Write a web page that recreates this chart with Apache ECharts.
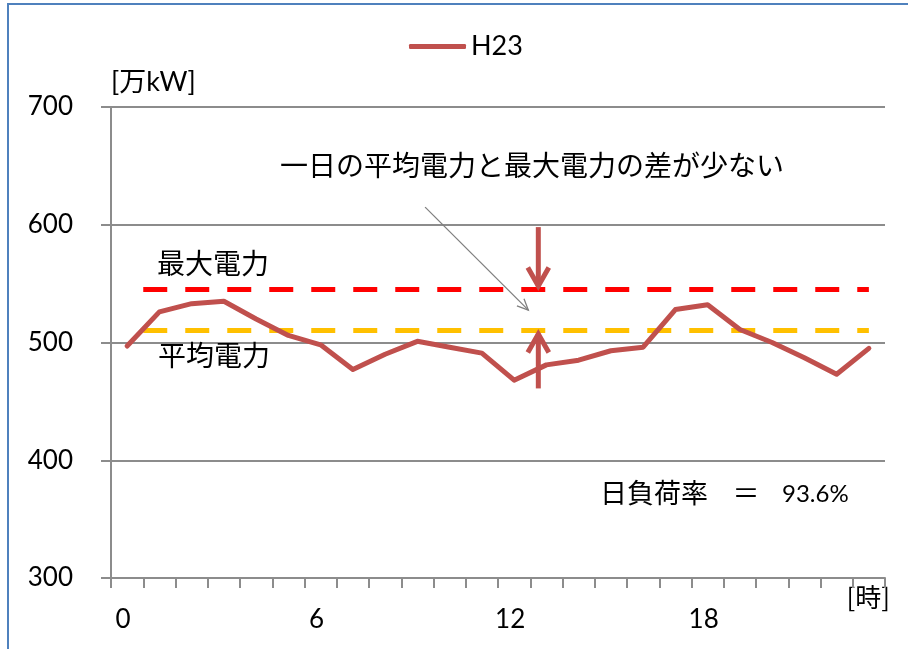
<!DOCTYPE html>
<html>
<head>
<meta charset="utf-8">
<script src="https://cdn.jsdelivr.net/npm/echarts@6/dist/echarts.min.js"></script>
<style>
  html, body { margin: 0; padding: 0; background: #ffffff; }
  #chart { width: 908px; height: 649px; }
</style>
</head>
<body>
<div id="chart"></div>
<script>
// Hour of day (category axis)
const hours = ['0','1','2','3','4','5','6','7','8','9','10','11',
               '12','13','14','15','16','17','18','19','20','21','22','23'];
// Hourly demand, FY2011 (H23) [万kW]
const loadH23 = [497, 526, 533, 535, 520, 506, 498, 477, 490, 501, 496, 491,
                 468, 481, 485, 493, 496, 528, 532, 511, 500, 487, 473, 495];
// Reference levels
const peakPower = 545;          // 最大電力
const loadFactor = 93.6;        // 日負荷率 [%]
const averagePower = peakPower * loadFactor / 100;   // 平均電力
// Value axis range
const yMin = 300, yMax = 700, yStep = 100;
// Horizontal span of the reference lines (hour positions)
const refSpan = [1, 23.5];
// Annotation arrows: [hourFrom, valueFrom, hourTo, valueTo]
const arrowHour = 13.25;
const gapArrows = [
  [arrowHour, 598, arrowHour, peakPower],
  [arrowHour, 461, arrowHour, averagePower]
];
const pointerArrow = [[9.74, 615, 12.96, 527]];

const FONT = "Lato, 'Noto Sans CJK JP', sans-serif";
const JP = "'Noto Sans CJK JP', sans-serif";
const RED_LINE = '#C0504D';
const GRID = '#8C8C8C';

// Draws a straight arrow with an open (V-shaped) head
function arrowRenderer(color, width, headLen, headHalf) {
  return function (params, api) {
    const p0 = api.coord([api.value(0), api.value(1)]);
    const p1 = api.coord([api.value(2), api.value(3)]);
    const dx = p1[0] - p0[0], dy = p1[1] - p0[1];
    const len = Math.sqrt(dx * dx + dy * dy) || 1;
    const ux = dx / len, uy = dy / len;
    const px = -uy, py = ux;
    const back = [p1[0] - ux * headLen, p1[1] - uy * headLen];
    const left = [back[0] + px * headHalf, back[1] + py * headHalf];
    const right = [back[0] - px * headHalf, back[1] - py * headHalf];
    const style = { stroke: color, lineWidth: width, fill: null, lineJoin: 'miter', lineCap: 'butt' };
    return {
      type: 'group',
      children: [
        { type: 'polyline', shape: { points: [p0, [p1[0] - ux * width * 0.6, p1[1] - uy * width * 0.6]] }, style: style },
        { type: 'polyline', shape: { points: [left, [p1[0] - ux * width * 0.7, p1[1] - uy * width * 0.7], right] }, style: style }
      ]
    };
  };
}

const chart = echarts.init(document.getElementById('chart'), null, { renderer: 'canvas' });

const option = {
  animation: false,
  backgroundColor: '#ffffff',
  textStyle: { fontFamily: FONT },
  grid: { left: 111, right: 23, top: 107, bottom: 71, containLabel: false },
  legend: {
    data: ['H23'],
    left: 404,
    top: 28,
    icon: 'roundRect',
    itemWidth: 57,
    itemHeight: 5,
    itemGap: 4,
    textStyle: { fontFamily: FONT, fontSize: 27, color: '#000' }
  },
  xAxis: [
    {
      type: 'category',
      data: hours,
      boundaryGap: true,
      name: '[時]',
      nameLocation: 'end',
      nameGap: 5,
      nameTextStyle: {
        fontFamily: JP, fontSize: 26, color: '#000',
        align: 'right', verticalAlign: 'top', padding: [6, 0, 0, 0]
      },
      axisLine: { show: true, lineStyle: { color: GRID, width: 2 } },
      axisTick: { show: true, interval: 0, length: 10, inside: false, lineStyle: { color: GRID, width: 2 } },
      axisLabel: {
        interval: 5, margin: 29, fontSize: 26, color: '#000', fontFamily: FONT,
        padding: [0, 8, 0, 0]
      },
      splitLine: { show: false }
    },
    {
      type: 'value',
      min: 0,
      max: 24,
      show: false
    }
  ],
  yAxis: {
    type: 'value',
    min: yMin,
    max: yMax,
    interval: yStep,
    name: '[万kW]',
    nameLocation: 'end',
    nameGap: 11,
    nameTextStyle: {
      fontFamily: FONT, fontSize: 27, color: '#000', align: 'left', verticalAlign: 'bottom'
    },
    axisLine: { show: true, lineStyle: { color: GRID, width: 2 } },
    axisTick: { show: true, length: 10, inside: false, lineStyle: { color: GRID, width: 2 } },
    axisLabel: { margin: 38, fontSize: 26, color: '#000', fontFamily: FONT },
    splitLine: { show: true, lineStyle: { color: GRID, width: 2 } }
  },
  series: [
    {
      name: 'H23',
      type: 'line',
      data: loadH23,
      symbol: 'none',
      lineStyle: { color: RED_LINE, width: 5, cap: 'round', join: 'round' },
      itemStyle: { color: RED_LINE },
      z: 5
    },
    {
      name: '最大電力',
      type: 'line',
      xAxisIndex: 1,
      data: [[refSpan[0], peakPower], [refSpan[1], peakPower]],
      symbol: 'none',
      lineStyle: { color: '#FF0000', width: 5, type: [24, 18] },
      z: 4
    },
    {
      name: '平均電力',
      type: 'line',
      xAxisIndex: 1,
      data: [[refSpan[0], averagePower], [refSpan[1], averagePower]],
      symbol: 'none',
      lineStyle: { color: '#FFC000', width: 5, type: [24, 18] },
      z: 4
    },
    {
      name: 'gapArrows',
      type: 'custom',
      xAxisIndex: 1,
      data: gapArrows,
      renderItem: arrowRenderer(RED_LINE, 5, 22, 10.5),
      silent: true,
      clip: false,
      z: 6
    },
    {
      name: 'pointer',
      type: 'custom',
      xAxisIndex: 1,
      data: pointerArrow,
      renderItem: arrowRenderer('#7F7F7F', 1.3, 12, 5),
      silent: true,
      clip: false,
      z: 6
    }
  ],
  graphic: [
    {
      type: 'rect',
      shape: { x: 8, y: 4, width: 1200, height: 1200 },
      style: { fill: 'none', stroke: '#4F81BD', lineWidth: 2 },
      silent: true,
      z: 100
    },
    {
      type: 'text', x: 532, y: 165, silent: true, z: 50,
      style: { text: '一日の平均電力と最大電力の差が少ない', font: '28px ' + JP, fill: '#000', align: 'center', verticalAlign: 'middle' }
    },
    {
      type: 'text', x: 157, y: 263, silent: true, z: 50,
      style: { text: '最大電力', font: '28px ' + JP, fill: '#000', align: 'left', verticalAlign: 'middle' }
    },
    {
      type: 'text', x: 158, y: 355, silent: true, z: 50,
      style: { text: '平均電力', font: '28px ' + JP, fill: '#000', align: 'left', verticalAlign: 'middle' }
    },
    {
      type: 'text', x: 600, y: 493, silent: true, z: 50,
      style: { text: '日負荷率', font: '27px ' + JP, fill: '#000', align: 'left', verticalAlign: 'middle' }
    },
    {
      type: 'text', x: 746, y: 493, silent: true, z: 50,
      style: { text: '＝', font: '27px ' + JP, fill: '#000', align: 'center', verticalAlign: 'middle' }
    },
    {
      type: 'text', x: 782, y: 494, silent: true, z: 50,
      style: { text: loadFactor.toFixed(1) + '%', font: '24px ' + FONT, fill: '#000', align: 'left', verticalAlign: 'middle' }
    }
  ]
};

chart.setOption(option);
</script>
</body>
</html>
